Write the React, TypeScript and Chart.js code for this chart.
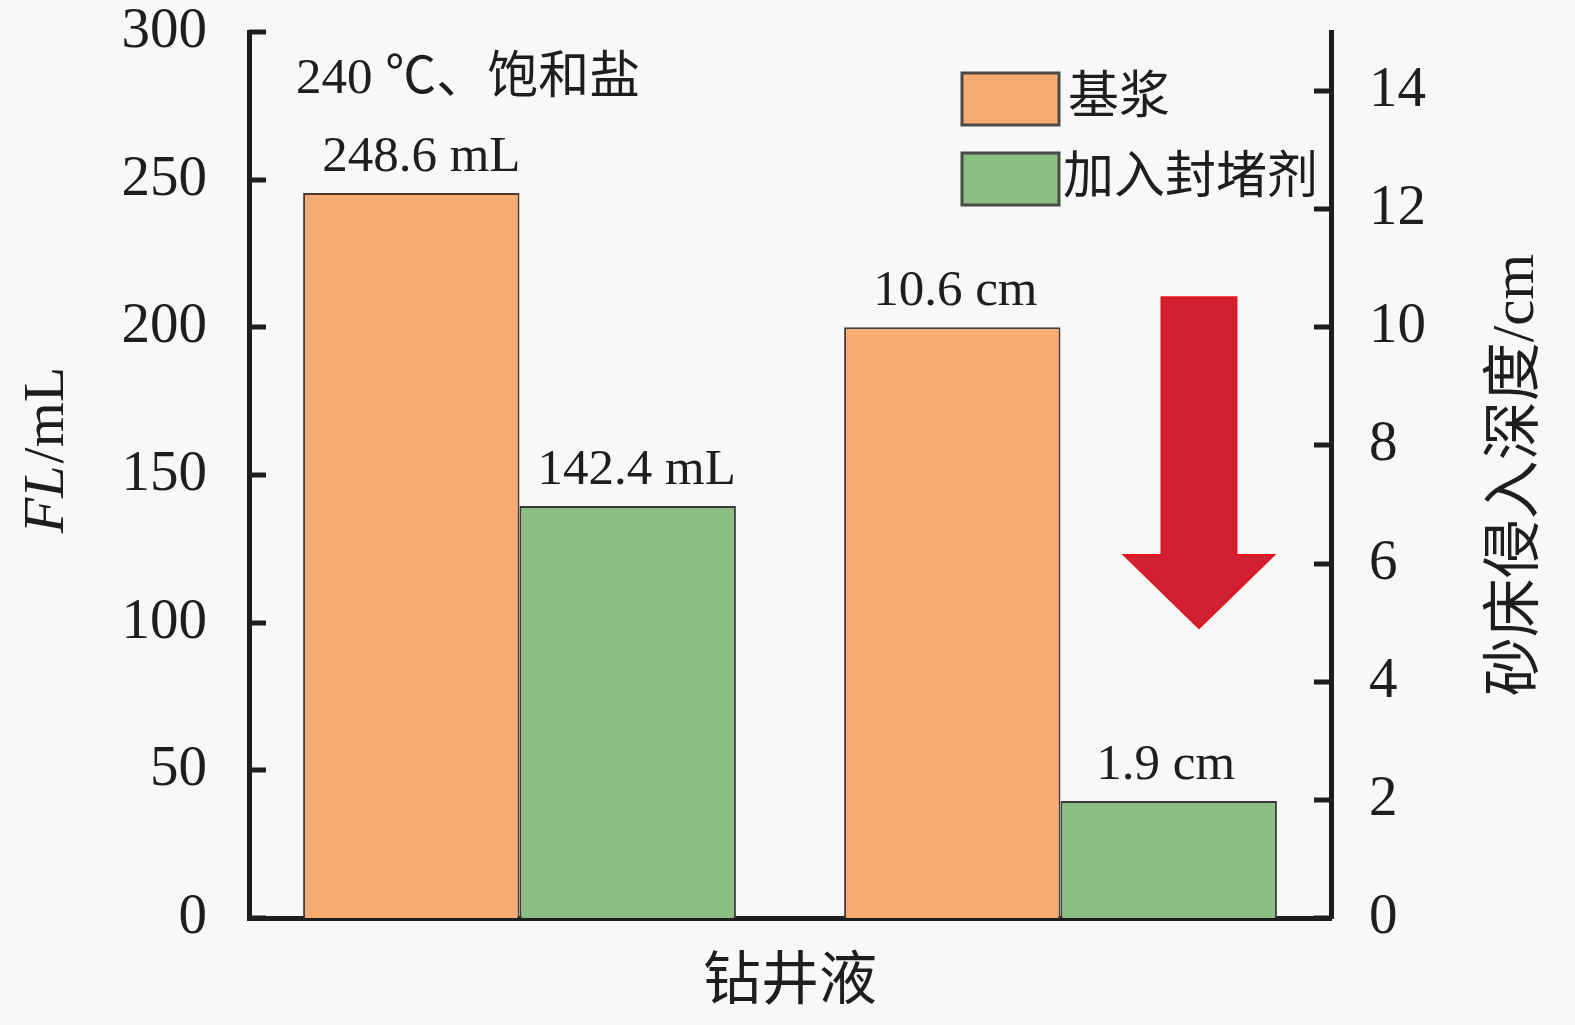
import React, { useEffect, useRef } from "react";
import { Chart, registerables } from "chart.js";

Chart.register(...registerables);

// ---- data ----
const categories = ["FL", "砂床侵入深度"];
const seriesNames = ["基浆", "加入封堵剂"];
const flValues = [245.5, 139.5]; // mL (left axis)
const depthValues = [10.0, 1.98]; // cm (right axis)
const flLabels = ["248.6 mL", "142.4 mL"];
const depthLabels = ["10.6 cm", "1.9 cm"];
const leftTicks = [0, 50, 100, 150, 200, 250, 300];
const rightTicks = [0, 2, 4, 6, 8, 10, 12, 14];
const annotationText = "240 ℃、饱和盐";
const xTitle = "钻井液";
const rightTitle = "砂床侵入深度/cm";

const ORANGE = "#F5AB72";
const GREEN = "#8BBF82";
const SERIF = "'Liberation Serif', 'Noto Sans CJK SC', serif";
const INK = "#1e1e1e";

const customPlugin = {
  id: "customDraw",
  beforeDraw(chart: any) {
    const ctx = chart.ctx;
    ctx.save();
    ctx.fillStyle = "#F8F8F8";
    ctx.fillRect(0, 0, chart.width, chart.height);
    ctx.restore();
  },
  afterDraw(chart: any) {
    const ctx = chart.ctx;
    const area = chart.chartArea;
    const yl = chart.scales.y;
    const yr = chart.scales.y2;
    const xs = chart.scales.x;
    ctx.save();

    // inward ticks
    ctx.strokeStyle = INK;
    ctx.lineWidth = 5;
    leftTicks.forEach((v) => {
      const py = Math.round(yl.getPixelForValue(v));
      ctx.beginPath();
      ctx.moveTo(area.left, py);
      ctx.lineTo(area.left + 17, py);
      ctx.stroke();
    });
    rightTicks.forEach((v) => {
      const py = Math.round(yr.getPixelForValue(v));
      ctx.beginPath();
      ctx.moveTo(area.right, py);
      ctx.lineTo(area.right - 17, py);
      ctx.stroke();
    });

    // value labels above bars
    ctx.fillStyle = INK;
    ctx.font = `51px ${SERIF}`;
    ctx.textAlign = "center";
    ctx.textBaseline = "alphabetic";
    const labelSets = [
      { ds: 0, idx: 0, text: flLabels[0], dx: 10 },
      { ds: 1, idx: 0, text: flLabels[1], dx: 9 },
      { ds: 2, idx: 1, text: depthLabels[0], dx: 3 },
      { ds: 3, idx: 1, text: depthLabels[1], dx: -3 },
    ];
    labelSets.forEach((l) => {
      const el = chart.getDatasetMeta(l.ds).data[l.idx];
      if (!el) return;
      ctx.fillText(l.text, el.x + l.dx, el.y - 22);
    });

    // annotation
    ctx.font = `51px ${SERIF}`;
    ctx.textAlign = "left";
    ctx.textBaseline = "alphabetic";
    ctx.fillText(annotationText, 296, 93);

    // legend
    const legendItems = [
      { color: ORANGE, text: seriesNames[0], y: 73, tx: 1068 },
      { color: GREEN, text: seriesNames[1], y: 153, tx: 1063 },
    ];
    legendItems.forEach((it) => {
      ctx.fillStyle = it.color;
      ctx.fillRect(962, it.y, 97, 52);
      ctx.strokeStyle = "#4a4a4a";
      ctx.lineWidth = 3;
      ctx.strokeRect(962, it.y, 97, 52);
      ctx.fillStyle = INK;
      ctx.font = `51px ${SERIF}`;
      ctx.textAlign = "left";
      ctx.textBaseline = "middle";
      ctx.fillText(it.text, it.tx, it.y + 27);
    });

    // red arrow (in data units of x category scale & right axis)
    const cx = xs.getPixelForValue(1.256);
    const unit = xs.getPixelForValue(1) - xs.getPixelForValue(0);
    const shaftHalf = unit * 0.0693;
    const headHalf = unit * 0.1386;
    const yTop = yr.getPixelForValue(10.51);
    const yHead = yr.getPixelForValue(6.145);
    const yTip = yr.getPixelForValue(4.91);
    ctx.beginPath();
    ctx.moveTo(cx - shaftHalf, yTop);
    ctx.lineTo(cx + shaftHalf, yTop);
    ctx.lineTo(cx + shaftHalf, yHead);
    ctx.lineTo(cx + headHalf, yHead);
    ctx.lineTo(cx, yTip);
    ctx.lineTo(cx - headHalf, yHead);
    ctx.lineTo(cx - shaftHalf, yHead);
    ctx.closePath();
    ctx.fillStyle = "#D02032";
    ctx.fill();
    ctx.strokeStyle = "#E3161F";
    ctx.lineWidth = 2;
    ctx.stroke();

    // axis titles
    ctx.fillStyle = INK;
    // left: FL/mL (FL italic)
    ctx.save();
    ctx.translate(48, 451);
    ctx.rotate(-Math.PI / 2);
    ctx.textBaseline = "middle";
    ctx.textAlign = "left";
    const fItal = `italic 58px ${SERIF}`;
    const fReg = `58px ${SERIF}`;
    ctx.font = fItal;
    const w1 = ctx.measureText("FL").width;
    ctx.font = fReg;
    const w2 = ctx.measureText("/mL").width;
    const start = -(w1 + w2) / 2;
    ctx.font = fItal;
    ctx.fillText("FL", start, 0);
    ctx.font = fReg;
    ctx.fillText("/mL", start + w1 + 2, 0);
    ctx.restore();

    // right title
    ctx.save();
    ctx.translate(1517, 475);
    ctx.rotate(-Math.PI / 2);
    ctx.textAlign = "center";
    ctx.textBaseline = "middle";
    ctx.font = `59px ${SERIF}`;
    ctx.fillText(rightTitle, 0, 0);
    ctx.restore();

    // bottom title
    ctx.textAlign = "center";
    ctx.textBaseline = "middle";
    ctx.font = `58px ${SERIF}`;
    ctx.fillText(xTitle, (area.left + area.right) / 2, 984);

    ctx.restore();
  },
};

export default function App() {
  const canvasRef = useRef<HTMLCanvasElement | null>(null);

  useEffect(() => {
    if (!canvasRef.current) return;
    const noPad = (s: any) => {
      s.paddingTop = 0;
      s.paddingBottom = 0;
      s.paddingLeft = 0;
      s.paddingRight = 0;
    };
    const chart = new Chart(canvasRef.current, {
      type: "bar",
      data: {
        labels: categories,
        datasets: [
          {
            label: seriesNames[0],
            data: [flValues[0], null],
            backgroundColor: ORANGE,
            borderColor: "#4a3a30",
            borderWidth: 2,
            yAxisID: "y",
          },
          {
            label: seriesNames[1],
            data: [flValues[1], null],
            backgroundColor: GREEN,
            borderColor: "#3a3a3a",
            borderWidth: 2,
            yAxisID: "y",
          },
          {
            label: seriesNames[0],
            data: [null, depthValues[0]],
            backgroundColor: ORANGE,
            borderColor: "#4a3a30",
            borderWidth: 2,
            yAxisID: "y2",
          },
          {
            label: seriesNames[1],
            data: [null, depthValues[1]],
            backgroundColor: GREEN,
            borderColor: "#3a3a3a",
            borderWidth: 2,
            yAxisID: "y2",
          },
        ] as any,
      },
      options: {
        animation: false,
        responsive: false,
        devicePixelRatio: 1,
        skipNull: true,
        categoryPercentage: 0.8,
        barPercentage: 1.0,
        layout: { padding: { top: 32, left: 0, right: 0, bottom: 0 } },
        plugins: {
          legend: { display: false },
          tooltip: { enabled: false },
          title: { display: false },
        },
        scales: {
          x: {
            type: "category",
            offset: true,
            grid: { display: false, drawTicks: false },
            border: { display: true, color: INK, width: 5 },
            ticks: { display: false },
            afterFit: (s: any) => {
              s.height = 107;
              noPad(s);
            },
          },
          y: {
            type: "linear",
            position: "left",
            min: 0,
            max: 300,
            grid: { display: false, drawTicks: false },
            border: { display: true, color: INK, width: 5 },
            ticks: {
              padding: 42,
              color: INK,
              font: { family: SERIF, size: 57 },
            },
            afterBuildTicks: (s: any) => {
              s.ticks = leftTicks.map((v) => ({ value: v }));
            },
            afterFit: (s: any) => {
              s.width = 249;
              noPad(s);
            },
          },
          y2: {
            type: "linear",
            position: "right",
            min: 0,
            max: 15,
            grid: { display: false, drawTicks: false },
            border: { display: true, color: INK, width: 5 },
            ticks: {
              padding: 38,
              color: INK,
              font: { family: SERIF, size: 57 },
            },
            afterBuildTicks: (s: any) => {
              s.ticks = rightTicks.map((v) => ({ value: v }));
            },
            afterFit: (s: any) => {
              s.width = 244;
              noPad(s);
            },
          },
        },
      } as any,
      plugins: [customPlugin],
    });
    return () => chart.destroy();
  }, []);

  return (
    <div
      style={{
        position: "fixed",
        left: 0,
        top: 0,
        width: 1575,
        height: 1025,
        background: "#F8F8F8",
      }}
    >
      <canvas
        ref={canvasRef}
        width={1575}
        height={1025}
        style={{ display: "block", width: 1575, height: 1025 }}
      />
    </div>
  );
}
